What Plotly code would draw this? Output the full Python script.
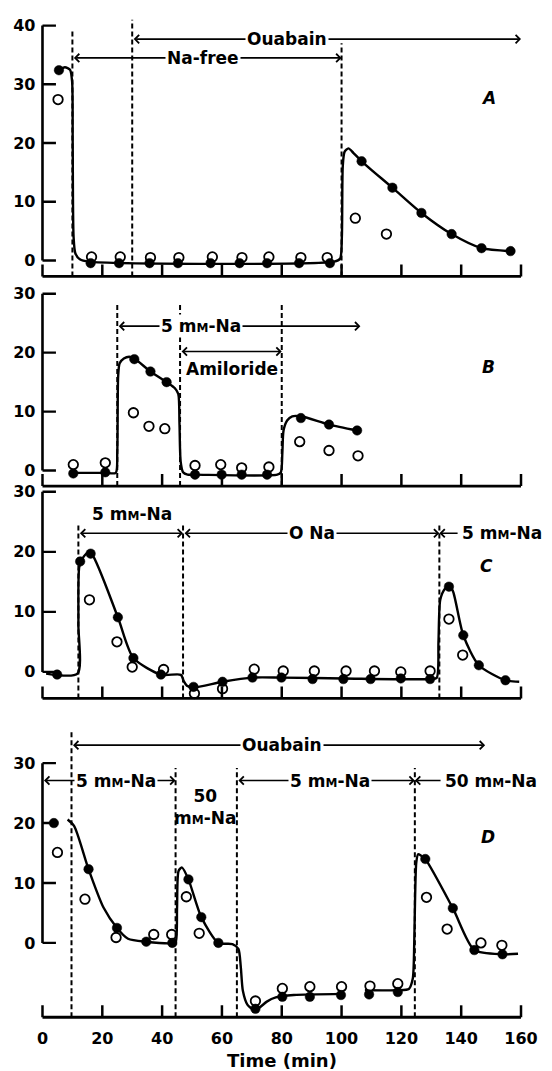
import plotly.graph_objects as go

# ---------------- data (time in min, value) ----------------
A_fill_t = [5.5, 16.1, 25.6, 35.8, 45.3, 56.2, 65.9, 75.1, 85.8, 96.1, 106.7, 117.0, 126.7, 136.8, 146.8, 156.5]
A_fill_y = [32.4, -0.45, -0.45, -0.45, -0.45, -0.45, -0.45, -0.45, -0.45, -0.45, 16.9, 12.4, 8.1, 4.5, 2.1, 1.6]
A_open_t = [5.2, 16.4, 26.0, 36.1, 45.6, 56.8, 66.7, 75.7, 86.4, 95.2, 104.6, 115.0]
A_open_y = [27.4, 0.6, 0.6, 0.5, 0.5, 0.6, 0.5, 0.6, 0.5, 0.5, 7.2, 4.5]
A_curve_t = [5.5, 7.5, 9.2, 9.9, 10.1, 10.4, 11.0, 12.5, 15.5, 97.5, 99.5, 100.1, 100.4, 101.0, 102.3, 104.0, 106.7, 117.0, 126.7, 136.8, 146.8, 156.5]
A_curve_y = [32.4, 32.9, 32.5, 30.5, 20, 4, 1.2, 0.2, -0.2, -0.2, 0.3, 4, 16, 18.5, 19.1, 18.3, 16.9, 12.4, 8.1, 4.5, 2.1, 1.6]

B_fill_t = [10.3, 21.0, 30.7, 36.1, 41.5, 51.0, 59.9, 66.6, 75.1, 86.4, 95.8, 105.2]
B_fill_y = [-0.5, -0.3, 18.9, 16.8, 15.0, -0.7, -0.7, -0.7, -0.7, 8.9, 7.8, 6.8]
B_open_t = [10.3, 21.0, 30.4, 35.6, 40.9, 51.0, 59.6, 66.6, 75.7, 86.0, 95.8, 105.5]
B_open_y = [1.0, 1.3, 9.8, 7.5, 7.1, 0.85, 1.0, 0.45, 0.6, 4.9, 3.4, 2.5]
B_curve_t = [10.3, 21.0, 24.5, 25.0, 25.3, 25.8, 27.2, 29.0, 30.7, 36.1, 41.5, 44.2, 45.4, 45.8, 46.2, 47.0, 48.5, 51.0, 78.5, 79.7, 80.2, 80.6, 81.8, 83.5, 86.4, 95.8, 105.2]
B_curve_y = [-0.4, -0.4, -0.4, 3, 16, 18.2, 19.0, 19.3, 19.0, 16.8, 15.0, 14.0, 13.0, 8, 1.5, -0.3, -0.7, -0.7, -0.7, -0.3, 3, 6.8, 8.5, 9.2, 9.2, 7.8, 6.8]

C_fill_t = [4.9, 12.6, 16.1, 25.2, 30.4, 39.6, 50.5, 60.2, 70.2, 79.9, 90.3, 100.6, 109.7, 119.8, 129.6, 135.9, 140.7, 145.9, 154.8]
C_fill_y = [-0.45, 18.4, 19.7, 9.1, 2.3, -0.45, -2.5, -1.65, -0.95, -0.95, -1.2, -1.2, -1.2, -1.1, -1.2, 14.2, 6.1, 1.1, -1.4]
C_open_t = [15.7, 24.9, 30.0, 40.5, 50.8, 60.2, 70.8, 80.5, 90.9, 101.5, 111.0, 119.8, 129.6, 135.9, 140.5]
C_open_y = [12.0, 5.0, 0.8, 0.4, -3.6, -2.8, 0.45, 0.15, 0.15, 0.15, 0.15, 0.0, 0.15, 8.8, 2.8]
C_curve_t = [1.2, 11.7, 12.0, 12.3, 13.5, 15.0, 16.5, 25.2, 30.4, 39.6, 46.3, 47.2, 48.3, 50.5, 60.2, 70.2, 79.9, 100.6, 129.6, 131.8, 132.4, 133.0, 134.5, 135.9, 137.2, 140.7, 145.9, 154.8, 159.4]
C_curve_y = [-0.3, -0.3, 8, 17.5, 19.0, 19.8, 19.6, 9.1, 2.3, -0.45, -0.5, -1.5, -2.3, -2.6, -1.65, -0.95, -0.95, -1.1, -1.2, -1.0, 5, 12, 13.8, 14.3, 13.5, 6.1, 1.1, -1.4, -1.65]

D_fill_t = [3.8, 15.4, 24.9, 34.7, 43.4, 48.8, 53.1, 58.8, 71.2, 80.2, 89.4, 99.8, 109.2, 118.8, 128.0, 137.2, 144.4, 153.8]
D_fill_y = [20.0, 12.3, 2.5, 0.2, 0.0, 10.6, 4.3, 0.0, -11.0, -9.0, -9.0, -8.7, -8.6, -8.2, 14.0, 5.8, -1.2, -1.9]
D_open_t = [5.0, 14.2, 24.6, 37.2, 43.2, 48.1, 52.4, 71.2, 80.2, 89.4, 100.0, 109.5, 118.8, 128.4, 135.3, 146.6, 153.6]
D_open_y = [15.1, 7.3, 0.9, 1.4, 1.4, 7.7, 1.6, -9.7, -7.6, -7.3, -7.3, -7.2, -6.8, 7.6, 2.3, 0.0, -0.4]
D_curve_t = [8.4, 10.6, 15.4, 20.4, 24.9, 28.6, 34.6, 43.8, 44.6, 45.0, 45.5, 46.6, 48.8, 53.1, 58.8, 63.5, 65.5, 66.3, 67.0, 68.5, 70.5, 72.5, 75.0, 78.0, 84.0, 100.4,
             None, 107.8, 118.8, 122.5, 123.8, 124.3, 124.6, 125.0, 125.6, 126.5, 128.0, 137.2, 144.4, 153.8, 159.0]
D_curve_y = [20.6, 19.5, 12.3, 5.9, 2.5, 0.7, 0.2, 0.0, 0.3, 6, 12.0, 12.6, 10.6, 4.3, 0.0, -0.2, -1.0, -4, -8, -10.3, -11.1, -10.8, -9.8, -9.1, -8.7, -8.5,
             None, -7.9, -7.9, -7.7, -6, 0, 8, 13.5, 14.8, 14.6, 14.0, 5.8, -1.2, -1.9, -1.8]

# regime boundaries (dashed lines) and their top ends
A_dash = [10, 30, 100]; A_dash_top = [39.2, 41.0, 37.0]
B_dash = [25, 46, 80]; B_dash_top = [28.6, 28.6, 28.6]
C_dash = [12, 47, 132.7]; C_dash_top = [24.6, 24.6, 24.6]
D_dash = [9.7, 44.5, 65, 124.5]; D_dash_top = [35.6, 29.2, 29.2, 29.2]

x_ticks = [0, 20, 40, 60, 80, 100, 120, 140, 160]

# ---------------- layout geometry (pixels) ----------------
W, H = 552, 1071
PXPM = (534.5 - 41.7) / 160.0
XPAD = 1.0
X0PX = 41.7 - XPAD * PXPM
X1PX = 534.5 + XPAD * PXPM
YPADPX = 4
# panel: (top px, x-axis line px, px of value 0, px per unit, y-axis top value)
panels = {
    "A": (10, 272.7, 256.7, 5.90, 40),
    "B": (286, 483.3, 467.7, 5.92, 30),
    "C": (485, 696.7, 670.0, 6.03, 30),
    "D": (722, 1017, 942.3, 6.02, 30),
}
TICKLEN_X = 12
TICKLEN_Y_MIN = 4.5
AXCOL = "black"

FONT = "DejaVu Sans"
fig = go.Figure()
shapes = []
annotations = []
names = ["A", "B", "C", "D"]
data = {
    "A": (A_curve_t, A_curve_y, A_fill_t, A_fill_y, A_open_t, A_open_y, A_dash, A_dash_top),
    "B": (B_curve_t, B_curve_y, B_fill_t, B_fill_y, B_open_t, B_open_y, B_dash, B_dash_top),
    "C": (C_curve_t, C_curve_y, C_fill_t, C_fill_y, C_open_t, C_open_y, C_dash, C_dash_top),
    "D": (D_curve_t, D_curve_y, D_fill_t, D_fill_y, D_open_t, D_open_y, D_dash, D_dash_top),
}

layout_axes = {}
for i, nm in enumerate(names):
    k = "" if i == 0 else str(i + 1)
    xa, ya = "x" + k, "y" + k
    top, axpx, zero, ppu, ytop = panels[nm]
    bot = axpx + YPADPX
    yaxis_line = -(axpx - zero) / ppu
    ymin = -(bot - zero) / ppu
    ymax = (zero - top) / ppu
    ct, cy, ft, fy, ot, oy, dsh, dtop = data[nm]
    fig.add_trace(go.Scatter(x=ct, y=cy, mode="lines", xaxis=xa, yaxis=ya,
                             line=dict(color="black", width=2.4, shape="spline", smoothing=0.7),
                             connectgaps=False, showlegend=False, hoverinfo="skip"))
    fig.add_trace(go.Scatter(x=ot, y=oy, mode="markers", xaxis=xa, yaxis=ya,
                             marker=dict(symbol="circle", size=9.5, color="white",
                                         line=dict(color="black", width=1.8)),
                             showlegend=False))
    fig.add_trace(go.Scatter(x=ft, y=fy, mode="markers", xaxis=xa, yaxis=ya,
                             marker=dict(symbol="circle", size=9.5, color="black",
                                         line=dict(color="black", width=0.5)),
                             showlegend=False))
    for t, tp in zip(dsh, dtop):
        shapes.append(dict(type="line", xref=xa, yref=ya, x0=t, x1=t, y0=yaxis_line, y1=tp,
                           line=dict(color="black", width=2, dash="5px,3px")))
    # y axis line over the labelled range, with inward ticks
    shapes.append(dict(type="line", xref=xa, yref=ya, x0=0, x1=0,
                       y0=0, y1=ytop, line=dict(color="black", width=2.6)))
    for v in range(0, ytop + 1, 10):
        shapes.append(dict(type="line", xref=xa, yref=ya, x0=0, x1=TICKLEN_Y_MIN, y0=v, y1=v,
                           line=dict(color="black", width=2.4)))
    # x axis line with upward ticks
    shapes.append(dict(type="line", xref=xa, yref=ya, x0=0, x1=160,
                       y0=yaxis_line, y1=yaxis_line, line=dict(color=AXCOL, width=2.8)))
    for t in x_ticks:
        shapes.append(dict(type="line", xref=xa, yref=ya, x0=t, x1=t,
                           y0=yaxis_line, y1=yaxis_line + TICKLEN_X / ppu,
                           line=dict(color=AXCOL, width=2.5)))
    dom_y = [1 - bot / H, 1 - top / H]
    layout_axes["xaxis" + k] = dict(
        domain=[X0PX / W, X1PX / W], anchor=ya, range=[-XPAD, 160 + XPAD], tickvals=x_ticks,
        ticks="", showline=False, showgrid=False, zeroline=False,
        showticklabels=(nm == "D"), ticklabelstandoff=6,
        tickfont=dict(family=FONT, size=16, color="black", weight="bold"))
    layout_axes["yaxis" + k] = dict(
        domain=dom_y, anchor=xa, range=[ymin, ymax],
        tickvals=list(range(0, ytop + 1, 10)), ticks="", showline=False,
        showgrid=False, zeroline=False, ticklabelstandoff=3,
        tickfont=dict(family=FONT, size=16, color="black", weight="bold"))

SC = "m<span style='font-size:12px'>M</span>"


def arrow(ax_id, t0, t1, y, both=True):
    k = "" if ax_id == 1 else str(ax_id)
    annotations.append(dict(xref="x" + k, yref="y" + k, axref="x" + k, ayref="y" + k,
                            x=t1, y=y, ax=t0, ay=y, text="", showarrow=True,
                            arrowhead=4, startarrowhead=4, arrowsize=1.0, startarrowsize=1.0,
                            arrowwidth=1.6, arrowcolor="black",
                            arrowside="end+start" if both else "end",
                            standoff=0, startstandoff=0))


def label(ax_id, t, y, text, bg=True, xanchor="center", size=17, italic=False):
    k = "" if ax_id == 1 else str(ax_id)
    annotations.append(dict(xref="x" + k, yref="y" + k, x=t, y=y, text=text, showarrow=False,
                            xanchor=xanchor, yanchor="middle",
                            bgcolor="white" if bg else "rgba(0,0,0,0)", borderpad=1,
                            font=dict(family=FONT, size=size, color="black", weight="bold",
                                      style="italic" if italic else "normal")))


# Panel A
arrow(1, 30, 160, 37.7); label(1, 81.6, 37.7, "Ouabain")
arrow(1, 10, 100, 34.5); label(1, 53.6, 34.5, "Na-free")
label(1, 149, 27.6, "A", bg=False, italic=True)
# Panel B
arrow(2, 25, 106.3, 24.5); label(2, 53, 24.5, "5 " + SC + "-Na")
arrow(2, 46, 80, 20.2); label(2, 63.5, 17.2, "Amiloride", bg=False)
label(2, 149, 17.6, "B", bg=False, italic=True)
# Panel C
arrow(3, 12, 47, 23.1); label(3, 29.8, 26.3, "5 " + SC + "-Na", bg=False)
arrow(3, 47, 132.7, 23.1); label(3, 90, 23.1, "O Na")
arrow(3, 139.3, 132.7, 23.1, both=False)
label(3, 139.6, 23.1, "5 " + SC + "-Na", bg=False, xanchor="left")
label(3, 148.4, 17.7, "C", bg=False, italic=True)
# Panel D
arrow(4, 9.7, 148, 33.0); label(4, 80, 33.0, "Ouabain")
arrow(4, 0, 44.5, 27.1); label(4, 24.5, 27.1, "5 " + SC + "-Na")
label(4, 54.5, 22.7, "50<br>" + SC + "-Na", bg=False)
arrow(4, 65, 124.5, 27.1); label(4, 96, 27.1, "5 " + SC + "-Na")
arrow(4, 133.6, 124.5, 27.1, both=False)
label(4, 133.9, 27.1, "50 " + SC + "-Na", bg=False, xanchor="left")
label(4, 149, 17.6, "D", bg=False, italic=True)

annotations.append(dict(xref="x4", yref="paper", x=80,
                        y=1 - 1060 / H, text="Time (min)", showarrow=False,
                        xanchor="center", yanchor="middle",
                        font=dict(family=FONT, size=18, color="black", weight="bold")))

fig.update_layout(width=W, height=H, margin=dict(l=0, r=0, t=0, b=0),
                  plot_bgcolor="white", paper_bgcolor="white",
                  shapes=shapes, annotations=annotations, **layout_axes)
fig.write_html("out.html")
